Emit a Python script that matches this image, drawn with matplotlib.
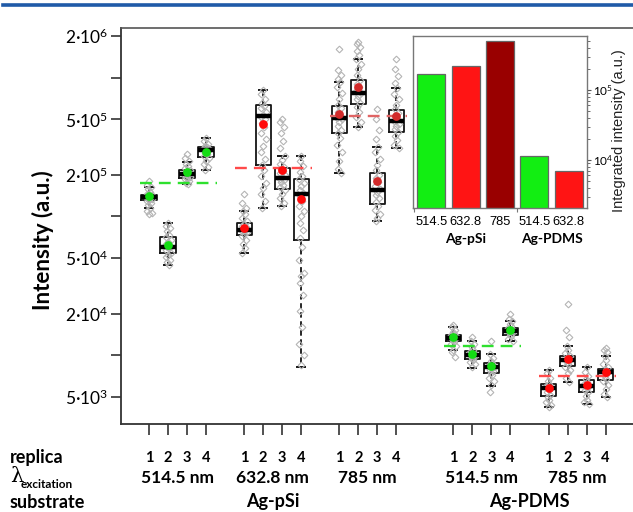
import matplotlib
matplotlib.use('Agg')
import matplotlib.pyplot as plt
from matplotlib.lines import Line2D
from matplotlib.transforms import blended_transform_factory as btf
from matplotlib import font_manager

plt.rcParams['font.family'] = ['Lato', 'DejaVu Sans']
plt.rcParams['mathtext.fontset'] = 'custom'
plt.rcParams['mathtext.rm'] = 'Lato'
plt.rcParams['mathtext.it'] = 'Lato:italic'
plt.rcParams['mathtext.bf'] = 'Lato:bold'

# ---------------- data (intensities in units of 1e3 a.u.) ----------------
substrates = ['Ag-pSi', 'Ag-PDMS']
wavelengths = ['514.5 nm', '632.8 nm', '785 nm', '514.5 nm', '785 nm']
replicas = ['1', '2', '3', '4']

whis_hi = [163, 89.8, 249, 368, 109, 811, 275, 273, 925, 1360, 318, 838,
           16.1, 12.7, 10.2, 17.8, 7.87, 11.7, 8.2, 9.91]
q3 = [144, 70.7, 218, 316, 89.4, 640, 223, 186, 623, 957, 207, 582,
      14.1, 10.7, 8.81, 15.8, 6.19, 9.88, 6.65, 8.03]
med = [138, 60.4, 201, 302, 80.4, 528, 189, 146, 511, 780, 154, 486,
       13.3, 10.05, 8.18, 15.0, 5.80, 9.21, 6.06, 7.52]
q1 = [131, 54.5, 189, 270, 74.1, 234, 159, 67.8, 401, 644, 124, 407,
      12.6, 9.36, 7.47, 14.1, 5.12, 8.34, 5.47, 6.60]
whis_lo = [116, 44.4, 171, 215, 54.7, 115, 119, 8.3, 207, 443, 93.3, 311,
           10.9, 8.07, 6.04, 12.7, 4.24, 6.37, 4.43, 5.00]
means = [140, 62.8, 208, 292, 82.3, 464, 218, 134, 550, 861, 179, 534,
         13.6, 10.2, 8.41, 15.2, 5.77, 9.36, 6.09, 7.53]

group_avg = [174, 224, 528, 11.7, 7.10]

points = [
    [181, 170, 163, 158, 150, 146, 144, 142, 140, 139, 138, 137, 135, 133, 131, 129, 126, 122, 116, 110, 106, 104],
    [90, 86, 82, 78, 74, 71, 68, 65, 63, 61, 60, 59, 57, 55, 53, 51, 49, 47, 45],
    [283, 265, 250, 240, 230, 222, 216, 211, 206, 203, 201, 199, 196, 193, 190, 186, 180, 174, 171],
    [368, 350, 335, 322, 315, 310, 305, 302, 299, 294, 288, 280, 272, 262, 250, 238, 226, 215],
    [145, 125, 115, 109, 104, 98, 93, 89, 86, 84, 82, 80, 79, 77, 75, 72, 68, 63, 59, 55],
    [811, 760, 700, 660, 630, 600, 570, 540, 520, 500, 470, 440, 400, 360, 320, 290, 260, 235, 215, 195, 175, 160, 145, 130, 115],
    [508, 480, 440, 400, 350, 310, 275, 255, 240, 228, 220, 212, 205, 198, 192, 187, 182, 176, 170, 163, 155, 145, 135, 125, 119],
    [273, 250, 230, 210, 195, 185, 175, 165, 155, 148, 140, 130, 120, 110, 100, 90, 80, 70, 60, 49, 39, 37, 33, 27, 21, 16, 12, 10, 8.5],
    [1610, 1130, 1050, 980, 925, 850, 780, 700, 640, 600, 570, 540, 515, 500, 480, 450, 420, 400, 370, 330, 290, 250, 220, 207],
    [1820, 1750, 1650, 1550, 1450, 1360, 1250, 1150, 1050, 960, 900, 850, 800, 770, 740, 700, 660, 620, 570, 520, 480, 443],
    [594, 500, 420, 360, 318, 290, 260, 235, 215, 200, 188, 176, 166, 158, 150, 143, 136, 128, 120, 112, 104, 97, 93],
    [1360, 1150, 1020, 920, 838, 760, 700, 640, 590, 560, 530, 505, 485, 465, 445, 425, 405, 380, 355, 330, 311],
    [16.5, 16.1, 15.3, 14.7, 14.3, 14.0, 13.7, 13.4, 13.2, 13.0, 12.8, 12.5, 12.1, 11.6, 11.0, 10.5, 9.8],
    [13.6, 12.7, 12.0, 11.4, 11.0, 10.6, 10.3, 10.1, 9.9, 9.7, 9.5, 9.3, 9.0, 8.6, 8.2],
    [12.6, 10.2, 9.6, 9.1, 8.8, 8.5, 8.3, 8.1, 7.9, 7.7, 7.5, 7.2, 6.9, 6.5, 6.1, 5.4],
    [20.0, 18.4, 17.8, 16.9, 16.2, 15.7, 15.3, 15.0, 14.7, 14.4, 14.1, 13.7, 13.2, 12.7],
    [7.9, 7.4, 6.9, 6.5, 6.2, 6.0, 5.8, 5.6, 5.4, 5.2, 5.0, 4.8, 4.6, 4.4, 4.24],
    [23.4, 15.1, 13.6, 11.7, 11.0, 10.4, 9.9, 9.6, 9.3, 9.1, 8.9, 8.6, 8.3, 7.9, 7.4, 6.9, 6.4],
    [8.2, 7.6, 7.1, 6.7, 6.4, 6.2, 6.0, 5.8, 5.6, 5.4, 5.1, 4.8, 4.6, 4.43],
    [11.2, 10.9, 10.5, 9.9, 9.3, 8.7, 8.2, 7.9, 7.6, 7.4, 7.1, 6.8, 6.5, 6.1, 5.7, 5.3, 5.0],
]

inset_labels = ['514.5', '632.8', '785', '514.5', '632.8']
inset_values = [169, 220, 506, 11.5, 7.03]

yticks_vals = [5e3, 1e4, 2e4, 5e4, 1e5, 2e5, 5e5, 1e6, 2e6]
yticks_labels = [r'5·10$^{3}$', '', r'2·10$^{4}$', r'5·10$^{4}$', '', r'2·10$^{5}$',
                 r'5·10$^{5}$', '', r'2·10$^{6}$']

# ---------------- styles ----------------
SCALE = 1e3
mean_colors = ['#14dc14', '#ff0a0a', '#d22a2a', '#14dc14', '#ff0a0a']
line_colors = ['#2ee02e', '#ff4a4a', '#e06464', '#2ee02e', '#ff4a4a']
bar_colors = ['#12ee12', '#ff1414', '#990000', '#12ee12', '#ff1414']
group_starts = [0, 5, 10, 16, 21]
jitter = [0.0, -0.09, 0.09, -0.045, 0.045, -0.13, 0.13]

installed = {f.name for f in font_manager.fontManager.ttflist}
narrow = 'Liberation Sans Narrow' if 'Liberation Sans Narrow' in installed else 'Liberation Sans'
narrow_size = 11 if narrow == 'Liberation Sans Narrow' else 9.3

positions = [g + r for g in group_starts for r in range(1, 5)]

fig = plt.figure(figsize=(6.33, 5.12), dpi=100)
fig.add_artist(Line2D([0.005, 1.0], [1 - 5 / 512] * 2, color='#1f5aa8', lw=2.6))

ax = fig.add_axes([120.5 / 633, 1 - 424 / 512, 1 - 120.5 / 633 + 0.01, (424 - 28) / 512])
ax.set_yscale('log')

stats = []
for i in range(len(positions)):
    stats.append(dict(med=med[i] * SCALE, q1=q1[i] * SCALE, q3=q3[i] * SCALE,
                      whislo=whis_lo[i] * SCALE, whishi=whis_hi[i] * SCALE, fliers=[]))

ax.bxp(stats, positions=positions, widths=0.8, capwidths=0.42, showfliers=False,
       boxprops=dict(color='#151515', lw=1.3),
       whiskerprops=dict(color='#151515', lw=1.3, linestyle=(0, (3, 2))),
       capprops=dict(color='#151515', lw=1.4),
       medianprops=dict(color='black', lw=3.2, solid_capstyle='butt', zorder=4),
       manage_ticks=False, zorder=2)

for i, p in enumerate(positions):
    xs = [p + jitter[k % len(jitter)] for k in range(len(points[i]))]
    ys = [v * SCALE for v in points[i]]
    ax.plot(xs, ys, linestyle='none', marker='D', ms=3.4, mfc='none',
            mec='#b4b4b4', mew=0.8, zorder=3)

for gi, g in enumerate(group_starts):
    ax.hlines(group_avg[gi] * SCALE, g + 0.5, g + 4.55, colors=line_colors[gi],
              linestyles=(0, (5, 3)), lw=1.7, zorder=4.5)
    for r in range(4):
        i = gi * 4 + r
        ax.plot(g + r + 1, means[i] * SCALE, 'o', ms=6.3, color=mean_colors[gi],
                mec='none', zorder=5)

ax.set_xlim(-0.5, 1 + (633 - 149) / 19 + 0.3)
ax.set_ylim(3200, 2.28e6)
ax.yaxis.set_minor_locator(matplotlib.ticker.NullLocator())
ax.set_yticks(yticks_vals)
ax.set_yticklabels(yticks_labels)
ax.set_xticks(positions)
ax.set_xticklabels([])
ax.tick_params(axis='y', direction='out', length=7, width=1.2, color='#333333',
               labelsize=12.5, pad=2)
ax.tick_params(axis='x', direction='out', length=8, width=1.2, color='#333333')
ax.spines['right'].set_visible(False)
for s in ['left', 'bottom']:
    ax.spines[s].set_color('#333333')
    ax.spines[s].set_linewidth(1.3)
ax.spines['top'].set_color('#555555')
ax.spines['top'].set_linewidth(1.2)

fig.text(43 / 633, 1 - 240 / 512, 'Intensity (a.u.)', rotation=90, ha='center',
         va='center', fontsize=16, fontweight='bold')

# bottom labels
tr = btf(ax.transData, fig.transFigure)
for k, p in enumerate(positions):
    fig.text(p, 1 - 458 / 512, replicas[k % 4], transform=tr, ha='center',
             va='center', fontsize=10.5, fontweight='bold')
for gi, g in enumerate(group_starts):
    fig.text(g + 2.5, 1 - 478 / 512, wavelengths[gi], transform=tr, ha='center',
             va='center', fontsize=12.5, fontweight='bold')
fig.text(7.5, 1 - 502 / 512, substrates[0], transform=tr, ha='center', va='center',
         fontsize=13, fontweight='bold')
fig.text(21, 1 - 502 / 512, substrates[1], transform=tr, ha='center', va='center',
         fontsize=13, fontweight='bold')

fig.text(10 / 633, 1 - 458 / 512, 'replica', ha='left', va='center', fontsize=13,
         fontweight='bold')
fig.text(10 / 633, 1 - 477 / 512, 'λ', ha='left', va='center', fontsize=15,
         family='DejaVu Serif')
fig.text(21 / 633, 1 - 484 / 512, 'excitation', ha='left', va='center', fontsize=8.5,
         fontweight='bold')
fig.text(10 / 633, 1 - 503 / 512, 'substrate', ha='left', va='center', fontsize=13,
         fontweight='bold')

# ---------------- inset ----------------
axi = fig.add_axes([413 / 633, 1 - 208 / 512, 174 / 633, 172 / 512])
axi.set_yscale('log')
xi = list(range(len(inset_values)))
axi.bar(xi, [v * SCALE for v in inset_values], width=0.81, color=bar_colors,
        edgecolor='#666666', lw=0.9)
axi.set_xlim(-0.53, 4.53)
axi.set_ylim(2060, 5.9e5)
axi.yaxis.tick_right()
axi.set_xticks([-0.5, 2.5])
axi.set_xticklabels([])
axi.tick_params(axis='x', direction='out', length=3, color='#777777')
axi.set_yticks([1e4, 1e5])
axi.set_yticklabels([r'10$^{4}$', r'10$^{5}$'])
axi.tick_params(axis='y', which='major', direction='out', length=3, labelsize=8.5,
                color='#555555', pad=1.5)
axi.tick_params(axis='y', which='minor', direction='out', length=2, color='#555555')
axi.yaxis.set_minor_formatter(matplotlib.ticker.NullFormatter())
for s in axi.spines.values():
    s.set_color('#777777')
    s.set_linewidth(1.0)
axi.patch.set_facecolor('white')
axi.set_zorder(10)
tri = btf(axi.transData, axi.transAxes)
for i, lab in enumerate(inset_labels):
    axi.text(i, -0.08, lab, transform=tri, ha='center', va='center',
             fontsize=narrow_size, family=[narrow])
axi.text(1, -0.178, substrates[0], transform=tri, ha='center', va='center',
         fontsize=10, fontweight='bold')
axi.text(3.5, -0.178, substrates[1], transform=tri, ha='center', va='center',
         fontsize=10, fontweight='bold')
fig.text(619 / 633, 1 - 131 / 512, 'Integrated intensity (a.u.)', rotation=90,
         ha='center', va='center', fontsize=10.5, family=['Liberation Sans'],
         color='#222222')

fig.savefig('out.png', dpi=100)
